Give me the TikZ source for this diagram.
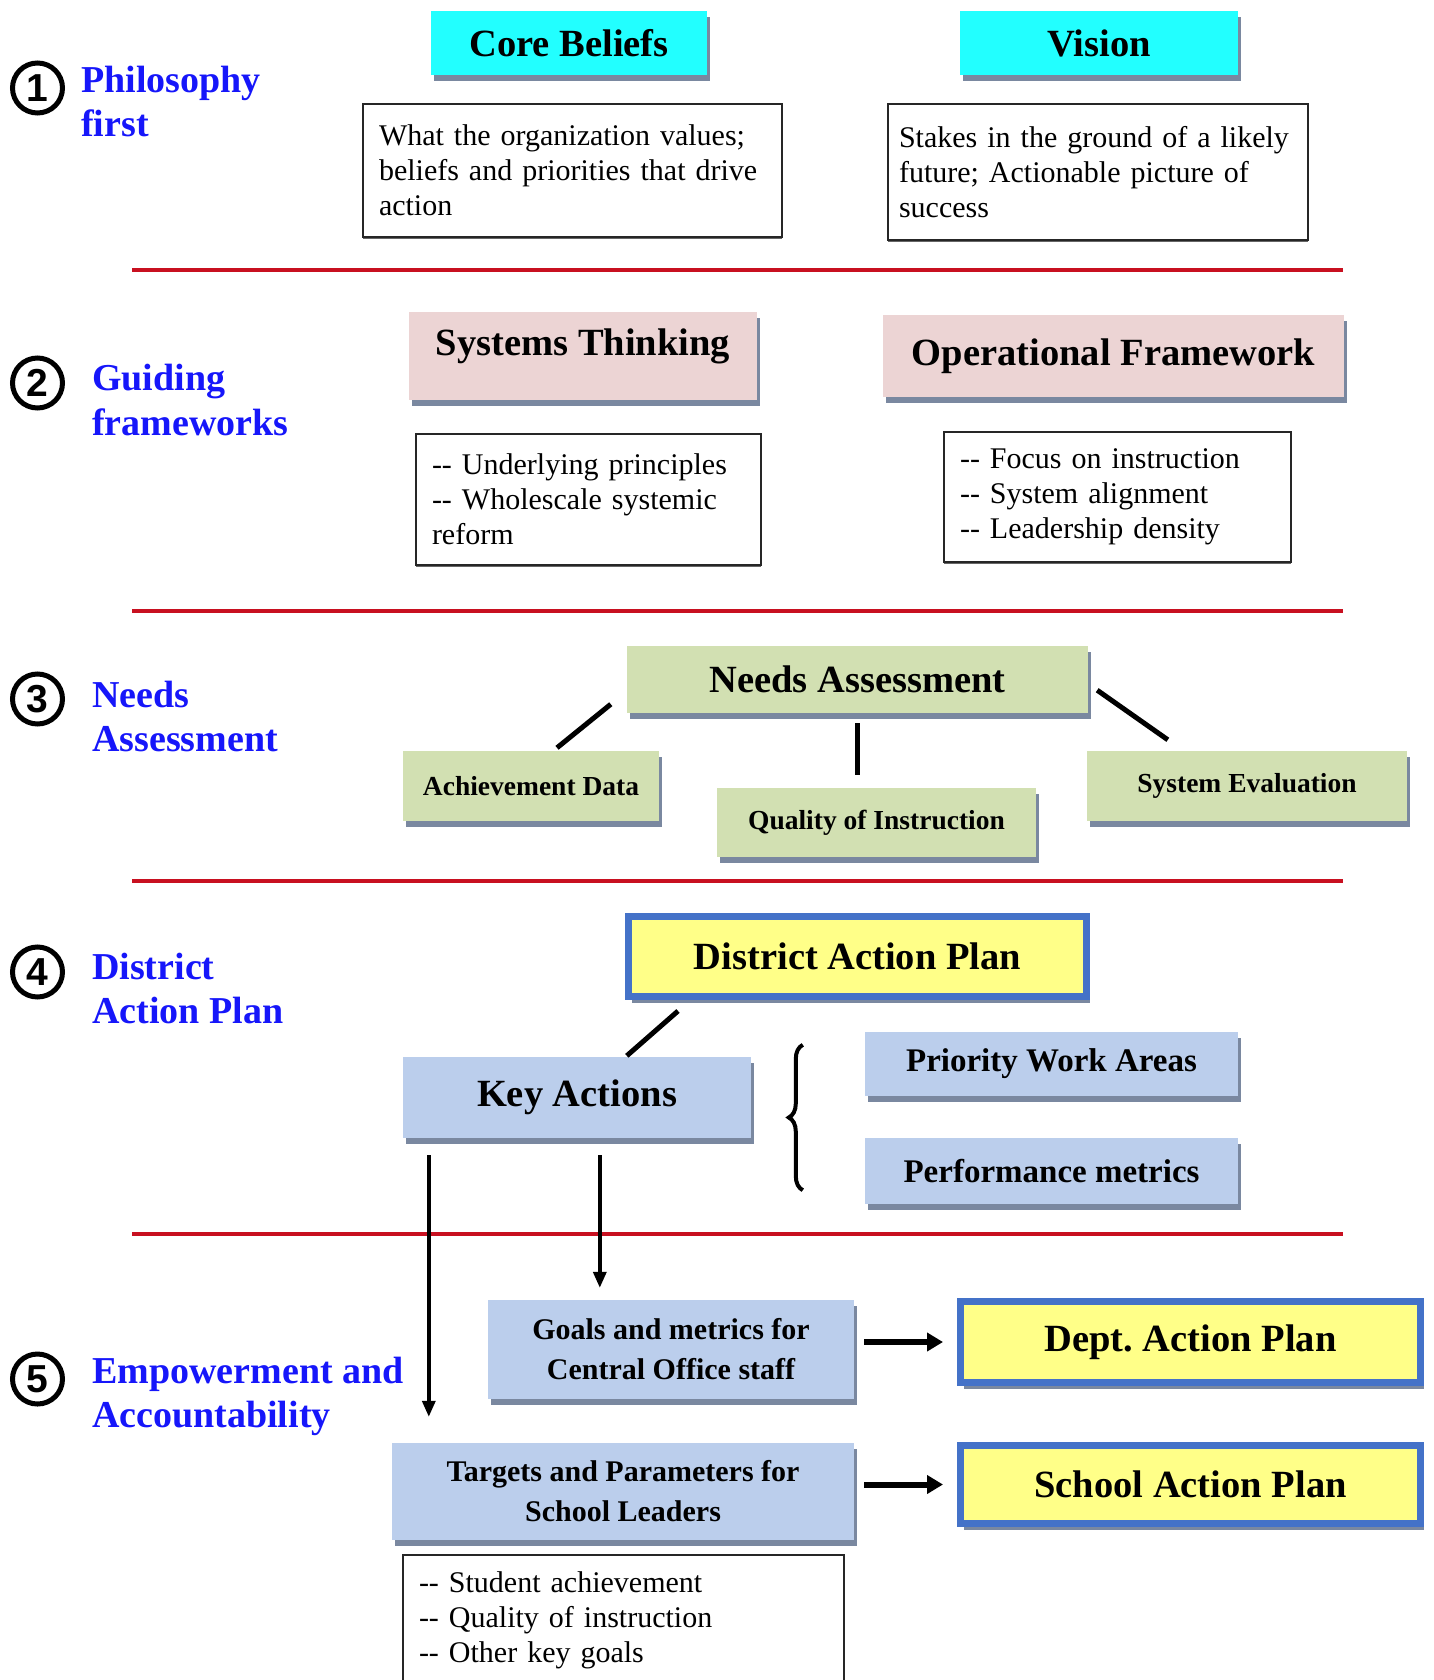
\documentclass[tikz,border=0pt]{standalone}
\usepackage{fontspec}
\setmainfont{Liberation Serif}
\newfontfamily\numfont{Liberation Sans}
\usetikzlibrary{arrows.meta,calc,shadows,decorations.pathreplacing}
\definecolor{labelblue}{RGB}{22,22,250}
\definecolor{dividerred}{RGB}{200,16,32}
\definecolor{boxcyan}{RGB}{34,255,255}
\definecolor{boxpink}{RGB}{236,212,212}
\definecolor{boxgreen}{RGB}{210,224,178}
\definecolor{boxblue}{RGB}{187,206,236}
\definecolor{boxyellow}{RGB}{255,255,136}
\definecolor{planblue}{RGB}{68,114,200}
\definecolor{shadowgray}{RGB}{122,136,160}
\newcommand{\headfont}{\fontsize{38.5}{44}\selectfont\bfseries}
\newcommand{\labelfont}{\fontsize{38}{44}\selectfont\bfseries}
\newcommand{\bodyfont}{\fontsize{30}{35}\selectfont}
\newcommand{\subfont}[1]{\fontsize{#1}{40}\selectfont\bfseries}
\tikzset{
  num-circle/.style={
    circle,
    draw=black,
    line width=5pt,
    minimum size=50pt,
    inner sep=0pt,
    font=\numfont\bfseries\fontsize{39}{39}\selectfont
  },
  stage-label/.style={
    anchor=west,
    inner sep=0pt,
    align=left,
    font=\labelfont,
    text=labelblue
  },
  head-box/.style={
    rectangle,
    inner sep=0pt,
    align=center,
    font=\headfont,
    drop shadow={shadow xshift=3pt, shadow yshift=-6pt, fill=shadowgray, opacity=1}
  },
  plan-box/.style={
    head-box,
    fill=boxyellow,
    draw=planblue,
    line width=7pt
  },
  text-box/.style={
    rectangle,
    draw=black!85,
    line width=2pt,
    fill=white,
    inner xsep=16pt,
    inner ysep=0pt,
    align=left,
    font=\bodyfont,
    drop shadow={shadow xshift=0pt, shadow yshift=-2pt, fill=black!60, opacity=1}
  },
  divider/.style={dividerred, line width=4pt},
  link/.style={line width=5pt},
  arrow-down/.style={line width=3.5pt, -{Triangle[length=16pt,width=13pt]}},
  arrow-right/.style={line width=6pt, -{Triangle[length=16pt,width=18pt]}}
}

\begin{document}
\begin{tikzpicture}[x=1pt, y=-1pt]
  \useasboundingbox (0,0) rectangle (1433,1680);
  \clip (0,0) rectangle (1433,1680);
  \foreach \y in {270,611,881,1234} {
    \draw[divider] (132,\y) -- (1343,\y);
  }
  \foreach \n/\y in {1/88,2/383,3/699,4/972,5/1379} {
    \node[num-circle] (num-\n) at (37.5,\y) {\n};
  }
  \node[stage-label] (lbl-1) at (81,102) {Philosophy\\first};
  \node[stage-label] (lbl-2) at (92,400) {Guiding\\frameworks};
  \node[stage-label] (lbl-3) at (92,716) {Needs\\Assessment};
  \node[stage-label] (lbl-4) at (92,988) {District\\Action Plan};
  \node[stage-label] (lbl-5) at (92,1396) {Empowerment and\\Accountability};

  \node[head-box, fill=boxcyan, minimum width=276pt, minimum height=64pt] (core) at (569,43) {Core Beliefs};
  \node[head-box, fill=boxcyan, minimum width=278pt, minimum height=64pt] (vision) at (1099,43) {Vision};
  \node[text-box, text width=387pt, minimum height=133pt] (core-txt) at (572.5,170.5)
    {What the organization values;\\beliefs and priorities that drive\\action};
  \node[text-box, inner xsep=11pt, text width=398pt, minimum height=136pt] (vision-txt) at (1098,172)
    {Stakes in the ground of a likely\\future; Actionable picture of\\success};

  \node[head-box, fill=boxpink, minimum width=348pt, minimum height=88pt, text depth=28pt] (systems) at (583,356) {Systems Thinking};
  \node[head-box, fill=boxpink, minimum width=461pt, minimum height=82pt] (opframe) at (1113.5,356) {Operational Framework};
  \node[text-box, text width=313pt, minimum height=131pt] (systems-txt) at (588.5,499.5)
    {-{}- Underlying principles\\-{}- Wholescale systemic\\reform};
  \node[text-box, text width=315pt, minimum height=130pt] (opframe-txt) at (1117.5,497)
    {-{}- Focus on instruction\\-{}- System alignment\\-{}- Leadership density};

  \node[head-box, fill=boxgreen, minimum width=461pt, minimum height=67pt] (needs) at (857.5,679.5) {Needs Assessment};
  \node[head-box, fill=boxgreen, font=\subfont{27.5}, minimum width=256pt, minimum height=70pt] (achieve) at (531,786) {Achievement Data};
  \node[head-box, fill=boxgreen, font=\subfont{27.5}, minimum width=319pt, minimum height=69pt] (quality) at (876.5,822.5) {Quality of Instruction};
  \node[head-box, fill=boxgreen, font=\subfont{27.5}, minimum width=320pt, minimum height=70pt] (syseval) at (1247,786) {System Evaluation};
  \draw[link] ($(needs.south west)+(-16,-9)$) -- ($(achieve.north)+(26,-3)$);
  \draw[link, shorten <=10pt, shorten >=13pt] (needs.south) -- (needs.south |- quality.north);
  \draw[link] ($(needs.south east)+(9,-23)$) -- ($(syseval.north west)+(81,-11)$);

  \node[plan-box, minimum width=458pt, minimum height=80pt] (district) at (857.5,956.5) {District Action Plan};
  \node[head-box, fill=boxblue, minimum width=348pt, minimum height=81pt] (keyact) at (577,1097.5) {Key Actions};
  \node[head-box, fill=boxblue, font=\subfont{33}, minimum width=373pt, minimum height=64pt] (priority) at (1051.5,1064) {Priority Work Areas};
  \node[head-box, fill=boxblue, font=\subfont{33}, minimum width=373pt, minimum height=66pt] (perf) at (1051.5,1171) {Performance metrics};
  \draw[link] ($(district.south west)+(53,11)$) -- ($(keyact.north west)+(224,-1)$);
  \draw[line width=4pt, decorate, decoration={brace, amplitude=14pt}]
    ($(perf.south west)+(-62,-14)$) -- ($(priority.north west)+(-62,13)$);

  \node[head-box, fill=boxblue, font=\subfont{30}, minimum width=366pt, minimum height=99pt] (goals) at (671,1349.5) {Goals and metrics for\\Central Office staff};
  \node[head-box, fill=boxblue, font=\subfont{30}, minimum width=462pt, minimum height=97pt] (targets) at (623,1491.5) {Targets and Parameters for\\School Leaders};
  \node[plan-box, minimum width=460pt, minimum height=81pt] (dept) at (1190.5,1342) {Dept.\ Action Plan};
  \node[plan-box, minimum width=460pt, minimum height=78pt] (school) at (1190.5,1484.5) {School Action Plan};
  \node[text-box, text width=409pt, minimum height=130pt] (targets-txt) at (623.5,1620)
    {-{}- Student achievement\\-{}- Quality of instruction\\-{}- Other key goals};

  \coordinate (ka-left) at ($(keyact.south west)+(26,17)$);
  \coordinate (ka-right) at ($(keyact.south west)+(197,17)$);
  \draw[arrow-down, shorten >=26pt] (ka-left) -- (ka-left |- targets.north);
  \draw[arrow-down, shorten >=12pt] (ka-right) -- (ka-right |- goals.north);
  \draw[arrow-right, shorten <=10pt, shorten >=14pt] (goals.east |- dept.west) -- (dept.west);
  \draw[arrow-right, shorten <=10pt, shorten >=14pt] (targets.east |- school.west) -- (school.west);
\end{tikzpicture}
\end{document}
